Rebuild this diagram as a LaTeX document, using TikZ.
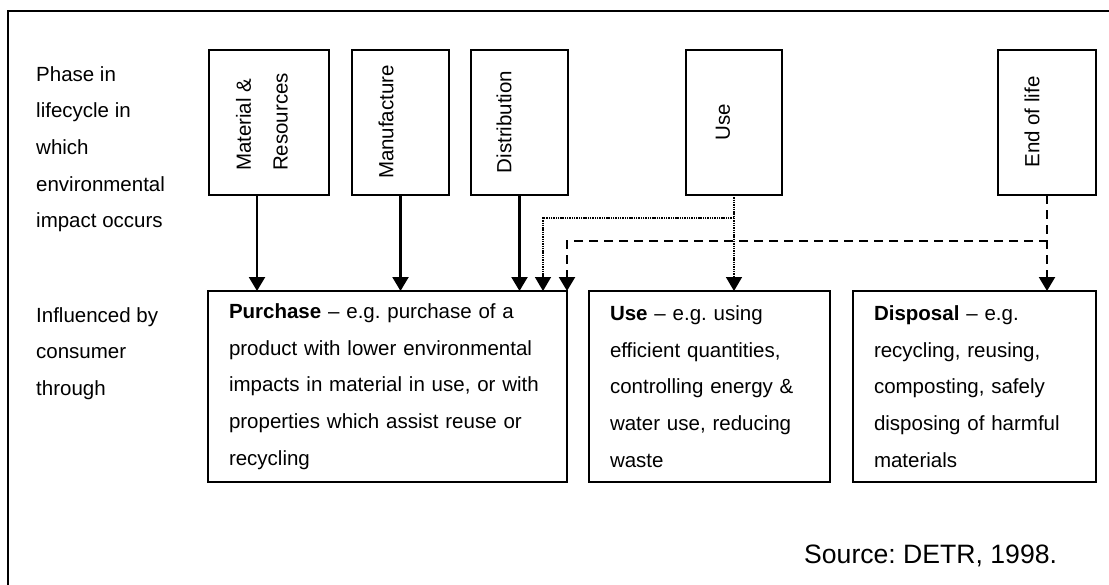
\documentclass[tikz,border=0pt]{standalone}
\usepackage{fontspec}
\setmainfont{Liberation Sans}
\usetikzlibrary{arrows.meta}
\begin{document}
\frenchspacing
\begin{tikzpicture}[x=1pt,y=-1pt,
  body/.style={font=\fontsize{20.5}{36.7}\selectfont},
  topbox/.style={draw, line width=2pt, minimum height=145pt, inner sep=0pt, outer sep=0pt, anchor=north west},
  vtext/.style={body, rotate=90, align=left, inner sep=0pt},
  bbox/.style={draw, line width=2pt, anchor=north west, minimum height=191pt, inner xsep=21pt, inner ysep=0pt, outer sep=0pt, align=left, body},
  sidetext/.style={body, align=left, anchor=north west, inner sep=0pt},
  tip/.style={-{Triangle[length=14pt,width=16pt]}},
  arr/.style={line width=2.2pt, tip},
  dotarr/.style={line width=1.6pt, dash pattern=on 1.4pt off 0.9pt, tip},
  dasharr/.style={line width=2.2pt, dash pattern=on 9pt off 6pt, tip},
  frame/.style={line width=2pt, line join=miter}
]
\useasboundingbox (0,0) rectangle (1109,584);
\fill[white] (0,0) rectangle (1109,584);
% outer frame (only top and left edges visible)
\draw[frame] (8,600) -- (8,11) -- (1130,11);

% left labels
\node[sidetext] (phase) at (36,66) {Phase in\\lifecycle in\\which\\environmental\\impact occurs};
\node[sidetext] (infl) at (36,307) {Influenced by\\consumer\\through};

% top phase boxes
\node[topbox, minimum width=120pt] (mat) at (209,50) {};
\node[topbox, minimum width=97pt] (manu) at (352,50) {};
\node[topbox, minimum width=97pt] (dist) at (471,50) {};
\node[topbox, minimum width=96pt] (use) at (686,50) {};
\node[topbox, minimum width=98pt] (eol) at (998,50) {};

\node[vtext] (matT) at (262,122) {Material \&\\Resources};
\node[vtext] (manuT) at (386,122) {Manufacture};
\node[vtext] (distT) at (504,122) {Distribution};
\node[vtext] (useT) at (723,122) {Use};
\node[vtext] (eolT) at (1032,122) {End of life};

% bottom boxes
\node[bbox, text width=317pt] (purch) at (208,291) {\textbf{Purchase} \textendash{} e.g. purchase of a\\product with lower environmental\\impacts in material in use, or with\\properties which assist reuse or\\recycling};
\node[bbox, text width=199pt] (useb) at (589,291) {\textbf{Use} \textendash{} e.g. using\\efficient quantities,\\controlling energy \&\\water use, reducing\\waste};
\node[bbox, text width=201pt] (disp) at (853,291) {\textbf{Disposal} \textendash{} e.g.\\recycling, reusing,\\composting, safely\\disposing of harmful\\materials};

% source
\node[font=\fontsize{26.6}{30}\selectfont, anchor=base west, inner sep=0pt] (src) at (804,563) {Source: DETR, 1998.};

% connectors
\coordinate (dotK) at (543,218);
\coordinate (dashK) at (567,241);

\draw[arr] ([xshift=-12pt]mat.south) -- ([xshift=-12pt]mat.south |- purch.north);
\draw[arr] (manu.south) -- (manu.south |- purch.north);
\draw[arr] (dist.south) -- (dist.south |- purch.north);

\draw[dotarr] (use.south) |- (dotK) -- (dotK |- purch.north);
\draw[dotarr] (use.south) -- (use.south |- useb.north);

\draw[dasharr] (eol.south) |- (dashK) -- (dashK |- purch.north);
\draw[dasharr] (eol.south) -- (eol.south |- disp.north);
\end{tikzpicture}
\end{document}
